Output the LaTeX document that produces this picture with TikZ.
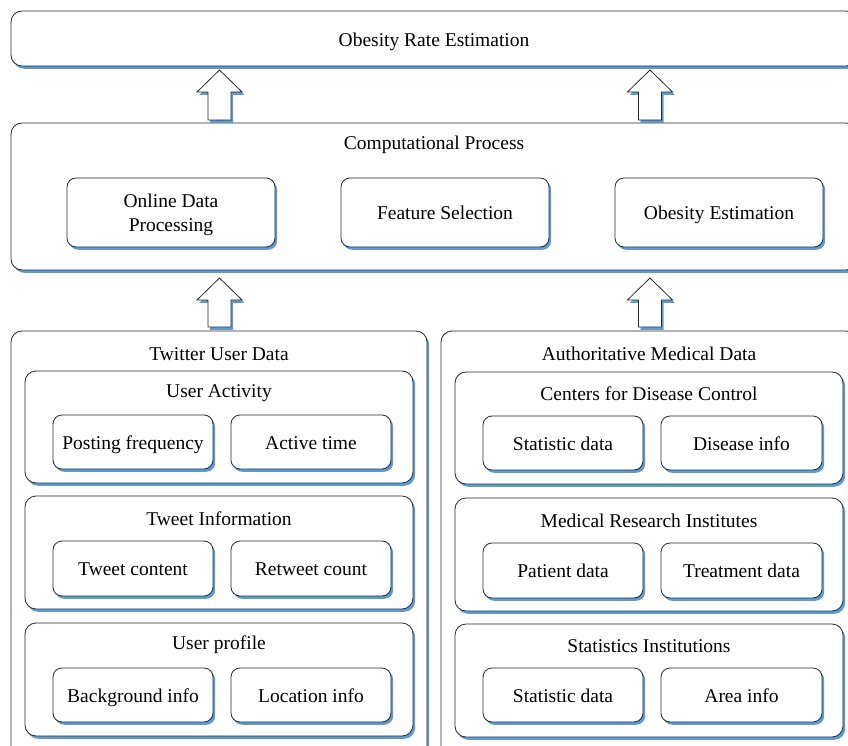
\documentclass[tikz,border=0pt]{standalone}
\usepackage{fontspec}
\setmainfont{Liberation Serif}
\usetikzlibrary{shadows,calc}
\definecolor{shblue}{HTML}{5B9BD5}
\definecolor{edge}{HTML}{2A2A2A}
\newcommand{\lbl}[1]{\raisebox{-2.5pt}[\height][\depth]{\begin{tabular}{@{}c@{}}#1\end{tabular}}}
\tikzset{
  box/.style={draw=edge, line width=0.8pt, fill=white, rounded corners=11pt,
    inner sep=0pt, outer sep=0pt, anchor=north west,
    drop shadow={shadow xshift=2.2pt, shadow yshift=-2.8pt, fill=shblue, opacity=1}},
  smallbox/.style={box, rounded corners=9pt, align=center, font=\fontsize{19.5}{24}\selectfont},
  title/.style={inner sep=0pt, font=\fontsize{19.5}{24}\selectfont},
  barrow/.style={draw=edge, line width=0.8pt, fill=white, line join=miter},
  barrowsh/.style={fill=shblue},
}
\newcommand{\blockarrow}[3]{% x, tip y, bottom y
  \fill[barrowsh, shift={(2.2,2.8)}] (#1,#2) -- (#1+22.5,#2+22) -- (#1+11.5,#2+22) -- (#1+11.5,#3) -- (#1-11.5,#3) -- (#1-11.5,#2+22) -- (#1-22.5,#2+22) -- cycle;
  \draw[barrow] (#1,#2) -- (#1+22.5,#2+22) -- (#1+11.5,#2+22) -- (#1+11.5,#3) -- (#1-11.5,#3) -- (#1-11.5,#2+22) -- (#1-22.5,#2+22) -- cycle;
}
\begin{document}
\begin{tikzpicture}[x=1pt,y=-1pt]
\useasboundingbox (0,0) rectangle (848,746);
\clip (0,0) rectangle (848,746);
% top
\node[box, minimum width=846pt, minimum height=55pt] (top) at (11,11) {};
\node[title] (topt) at (434,42) {Obesity Rate Estimation};
% computational
\node[box, minimum width=846pt, minimum height=147pt] (cp) at (11,123) {};
\node[title] (cpt) at (434,145) {Computational Process};
\node[smallbox, minimum width=208pt, minimum height=69pt] (odp) at (67,178) {\lbl{Online Data\\Processing}};
\node[smallbox, minimum width=208pt, minimum height=69pt] (fs) at (341,178) {\lbl{Feature Selection}};
\node[smallbox, minimum width=208pt, minimum height=69pt] (oe) at (615,178) {\lbl{Obesity Estimation}};
% arrows
\blockarrow{219.5}{70}{120}
\blockarrow{650}{70}{120}
\blockarrow{219.5}{278}{327}
\blockarrow{650}{278}{327}
% twitter
\node[box, minimum width=416pt, minimum height=440pt] (tw) at (11,331) {};
\node[title] (twt) at (219,354) {Twitter User Data};
\node[box, minimum width=388pt, minimum height=112pt] (ua) at (25,371) {};
\node[title] (uat) at (219,393) {User Activity};
\node[smallbox, minimum width=160pt, minimum height=54pt] (pf) at (53,415) {\lbl{Posting frequency}};
\node[smallbox, minimum width=160pt, minimum height=54pt] (at) at (231,415) {\lbl{Active time}};
\node[box, minimum width=388pt, minimum height=113pt] (ti) at (25,496) {};
\node[title] (tit) at (219,519) {Tweet Information};
\node[smallbox, minimum width=160pt, minimum height=55pt] (tc) at (53,541) {\lbl{Tweet content}};
\node[smallbox, minimum width=160pt, minimum height=55pt] (rc) at (231,541) {\lbl{Retweet count}};
\node[box, minimum width=388pt, minimum height=113pt] (up) at (25,623) {};
\node[title] (upt) at (219,645) {User profile};
\node[smallbox, minimum width=160pt, minimum height=54pt] (bi) at (53,668) {\lbl{Background info}};
\node[smallbox, minimum width=160pt, minimum height=54pt] (li) at (231,668) {\lbl{Location info}};
% medical
\node[box, minimum width=416pt, minimum height=440pt] (md) at (441,331) {};
\node[title] (mdt) at (649,354) {Authoritative Medical Data};
\node[box, minimum width=388pt, minimum height=112pt] (cdc) at (455,372) {};
\node[title] (cdct) at (649,394) {Centers for Disease Control};
\node[smallbox, minimum width=160pt, minimum height=54pt] (sd1) at (483,416) {\lbl{Statistic data}};
\node[smallbox, minimum width=161pt, minimum height=54pt] (di) at (661,416) {\lbl{Disease info}};
\node[box, minimum width=388pt, minimum height=113pt] (mri) at (455,498) {};
\node[title] (mrit) at (649,521) {Medical Research Institutes};
\node[smallbox, minimum width=160pt, minimum height=55pt] (pd) at (483,543) {\lbl{Patient data}};
\node[smallbox, minimum width=161pt, minimum height=55pt] (td) at (661,543) {\lbl{Treatment data}};
\node[box, minimum width=388pt, minimum height=113pt] (si) at (455,624) {};
\node[title] (sit) at (649,646) {Statistics Institutions};
\node[smallbox, minimum width=160pt, minimum height=54pt] (sd2) at (483,668) {\lbl{Statistic data}};
\node[smallbox, minimum width=161pt, minimum height=54pt] (ai) at (661,668) {\lbl{Area info}};
\end{tikzpicture}
\end{document}
